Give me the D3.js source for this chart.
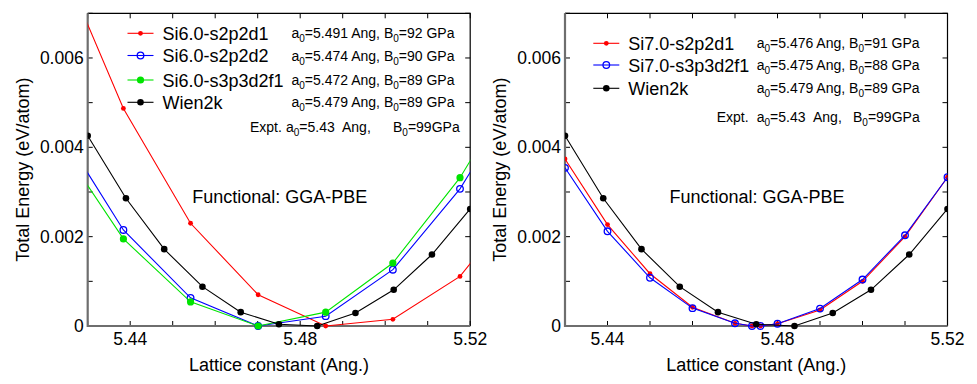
<!DOCTYPE html>
<html>
<head>
<meta charset="utf-8">
<script src="https://cdn.jsdelivr.net/npm/d3@7"></script>
<style>
  body { margin: 0; background: #fff; }
  text { font-family: "Liberation Sans", Arial, sans-serif; fill: #000; }
</style>
</head>
<body>
<script>
// ---- data ----
// left panel (Si6.0 basis), end points lie outside the frame and get clipped
var xSi6 = [5.4226, 5.4384, 5.4542, 5.4701, 5.4860, 5.5018, 5.5176, 5.5334];
var eS2p2d1_6 = [0.0084, 0.00487, 0.0023, 0.0007, 0.0, 0.00015, 0.00111, 0.0030];
var eS2p2d2_6 = [0.00455, 0.00215, 0.00063, 0.0, 0.00022, 0.00126, 0.00307, 0.0055];
var eS3p3d2f1_6 = [0.0042, 0.00195, 0.00054, 0.0, 0.00031, 0.00141, 0.00332, 0.0058];

// right panel (Si7.0 basis)
var xSi7 = [5.43, 5.44, 5.45, 5.46, 5.47, 5.474, 5.476, 5.48, 5.49, 5.50, 5.51, 5.52];
var eS2p2d1_7 = [0.00374, 0.00227, 0.00117, 0.00042, 0.00006, 0.0, 0.0, 0.00005, 0.00036, 0.0010, 0.0020, 0.00333];
var eS3p3d2f1_7 = [0.00354, 0.00212, 0.00108, 0.0004, 0.00006, 0.0, 0.0, 0.00005, 0.00039, 0.00104, 0.00203, 0.00333];

// Wien2k reference (same in both panels)
var xWien = [5.430, 5.439, 5.448, 5.457, 5.466, 5.475, 5.484, 5.493, 5.502, 5.511, 5.520];
var eWien = [0.00426, 0.00286, 0.00172, 0.00088, 0.00031, 0.00004, 0.0, 0.00029, 0.00081, 0.0016, 0.00262];

var xTickLabels = [5.44, 5.48, 5.52];
var yTickLabels = [0, 0.002, 0.004, 0.006];

var legendLeft = [
  { name: "Si6.0-s2p2d1", a0: "5.491", b0: "92" },
  { name: "Si6.0-s2p2d2", a0: "5.474", b0: "90" },
  { name: "Si6.0-s3p3d2f1", a0: "5.472", b0: "89" },
  { name: "Wien2k", a0: "5.479", b0: "89" }
];
var legendRight = [
  { name: "Si7.0-s2p2d1", a0: "5.476", b0: "91" },
  { name: "Si7.0-s3p3d2f1", a0: "5.475", b0: "88" },
  { name: "Wien2k", a0: "5.479", b0: "89" }
];

var RED = "#ff0000", BLUE = "#0000ff", GREEN = "#00e400", BLACK = "#000";

var svg = d3.select("body").append("svg")
  .attr("width", 977)
  .attr("height", 384);

// adds "a0=..., B0=..." with subscripts
function annot(g, x, y, a0, b0) {
  var t = g.append("text").attr("x", x).attr("y", y).style("font-size", "14px");
  t.append("tspan").text("a");
  t.append("tspan").attr("dy", 4).style("font-size", "10px").text("0");
  t.append("tspan").attr("dy", -4).text("=" + a0 + " Ang, B");
  t.append("tspan").attr("dy", 4).style("font-size", "10px").text("0");
  t.append("tspan").attr("dy", -4).text("=" + b0 + " GPa");
}

function drawPanel(left, id, series, legend, leg) {
  var x0 = left, x1 = left + 382.5, y0 = 13.3, y1 = 326;
  var x = d3.scaleLinear().domain([5.43, 5.52]).range([x0, x1]);
  var y = d3.scaleLinear().domain([0, 0.007]).range([y1, y0]);
  var g = svg.append("g");

  g.append("clipPath").attr("id", id)
    .append("rect")
    .attr("x", x0).attr("y", y0)
    .attr("width", x1 - x0).attr("height", y1 - y0 + 4);

  // ticks, all pointing inward
  var xt = d3.range(5.43, 5.5201, 0.01);
  var yt = d3.range(0, 0.00701, 0.001);
  g.selectAll(".xtb").data(xt).enter().append("line")
    .attr("x1", d => x(d)).attr("x2", d => x(d))
    .attr("y1", y1).attr("y2", y1 - 5)
    .attr("stroke", "#000");
  g.selectAll(".xtt").data(xt).enter().append("line")
    .attr("x1", d => x(d)).attr("x2", d => x(d))
    .attr("y1", y0).attr("y2", y0 + 5)
    .attr("stroke", "#000");
  g.selectAll(".ytl").data(yt).enter().append("line")
    .attr("x1", x0).attr("x2", x0 + 5)
    .attr("y1", d => y(d)).attr("y2", d => y(d))
    .attr("stroke", "#000");
  g.selectAll(".ytr").data(yt).enter().append("line")
    .attr("x1", x1).attr("x2", x1 - 5)
    .attr("y1", d => y(d)).attr("y2", d => y(d))
    .attr("stroke", "#000");

  // frame
  g.append("path")
    .attr("d", "M" + x0 + "," + y0 + "H" + x1 + "V" + y1)
    .attr("fill", "none").attr("stroke", "#000").attr("stroke-width", 1.2);
  g.append("path")
    .attr("d", "M" + x0 + "," + y0 + "V" + y1 + "H" + x1)
    .attr("fill", "none").attr("stroke", "#6e6e6e").attr("stroke-width", 2.2);

  // tick labels
  g.selectAll(".xl").data(xTickLabels).enter().append("text")
    .attr("x", d => x(d)).attr("y", y1 + 19)
    .attr("text-anchor", "middle")
    .style("font-size", "17.5px")
    .text(d => d3.format(".2f")(d));
  g.selectAll(".yl").data(yTickLabels).enter().append("text")
    .attr("x", x0 - 4).attr("y", d => y(d) + 6)
    .attr("text-anchor", "end")
    .style("font-size", "17.5px")
    .text(d => d === 0 ? "0" : d3.format(".3f")(d));

  // axis titles
  g.append("text")
    .attr("x", (x0 + x1) / 2).attr("y", 371)
    .attr("text-anchor", "middle")
    .style("font-size", "18px")
    .text("Lattice constant (Ang.)");
  g.append("text")
    .attr("transform", "translate(" + (x0 - 59) + "," + ((y0 + y1) / 2) + ") rotate(-90)")
    .attr("text-anchor", "middle")
    .style("font-size", "18px")
    .text("Total Energy (eV/atom)");

  g.append("text")
    .attr("x", x0 + 192).attr("y", 203)
    .attr("text-anchor", "middle")
    .style("font-size", "18px")
    .text("Functional: GGA-PBE");

  // curves
  var plot = g.append("g").attr("clip-path", "url(#" + id + ")");
  var line = d3.line().x(d => x(d[0])).y(d => y(d[1]));
  series.forEach(function (s) {
    var pts = d3.zip(s.x, s.y);
    plot.append("path").datum(pts)
      .attr("d", line)
      .attr("fill", "none")
      .attr("stroke", s.color)
      .attr("stroke-width", 1.1);
    plot.selectAll(null).data(pts).enter().append("circle")
      .attr("cx", d => x(d[0])).attr("cy", d => y(d[1]))
      .attr("r", s.r)
      .attr("fill", s.open ? "none" : s.color)
      .attr("stroke", s.color)
      .attr("stroke-width", s.open ? 1.3 : 0);
  });

  // legend
  legend.forEach(function (l, i) {
    var s = series[i];
    var ly = leg.rows[i];
    g.append("line")
      .attr("x1", leg.lx).attr("x2", leg.lx + 26)
      .attr("y1", ly).attr("y2", ly)
      .attr("stroke", s.color).attr("stroke-width", 1.1);
    g.append("circle")
      .attr("cx", leg.lx + 13).attr("cy", ly).attr("r", s.r)
      .attr("fill", s.open ? "none" : s.color)
      .attr("stroke", s.color)
      .attr("stroke-width", s.open ? 1.3 : 0);
    g.append("text")
      .attr("x", leg.tx).attr("y", ly + 6.5)
      .style("font-size", "18px")
      .text(l.name);
    annot(g, leg.ax, ly + 5, l.a0, l.b0);
  });

  // experiment line
  var ey = leg.expY;
  g.append("text").attr("x", leg.ex).attr("y", ey + 5)
    .style("font-size", "14px").text("Expt.");
  var t = g.append("text").attr("x", leg.ex2).attr("y", ey + 5)
    .style("font-size", "14px");
  t.append("tspan").text("a");
  t.append("tspan").attr("dy", 4).style("font-size", "10px").text("0");
  t.append("tspan").attr("dy", -4).text("=5.43");
  g.append("text").attr("x", leg.ex4).attr("y", ey + 5)
    .style("font-size", "14px").text("Ang,");
  var t2 = g.append("text").attr("x", leg.ex3).attr("y", ey + 5)
    .style("font-size", "14px");
  t2.append("tspan").text("B");
  t2.append("tspan").attr("dy", 4).style("font-size", "10px").text("0");
  t2.append("tspan").attr("dy", -4).text("=99GPa");
}

drawPanel(87.7, "clipL", [
  { x: xSi6, y: eS2p2d1_6, color: RED, r: 2.4 },
  { x: xSi6, y: eS2p2d2_6, color: BLUE, r: 3.3, open: true },
  { x: xSi6, y: eS3p3d2f1_6, color: GREEN, r: 3.6 },
  { x: xWien, y: eWien, color: BLACK, r: 3.3 }
], legendLeft, {
  lx: 127.5, tx: 162.5, ax: 291.5, rows: [33.3, 55.5, 80, 102.3],
  expY: 126.7, ex: 250, ex2: 286, ex4: 342, ex3: 393
});

drawPanel(565, "clipR", [
  { x: xSi7, y: eS2p2d1_7, color: RED, r: 2.4 },
  { x: xSi7, y: eS3p3d2f1_7, color: BLUE, r: 3.3, open: true },
  { x: xWien, y: eWien, color: BLACK, r: 3.3 }
], legendRight, {
  lx: 593.3, tx: 628.3, ax: 756.7, rows: [43.3, 65, 88.3],
  expY: 116.7, ex: 716.7, ex2: 756.7, ex4: 813, ex3: 853
});
</script>
</body>
</html>
